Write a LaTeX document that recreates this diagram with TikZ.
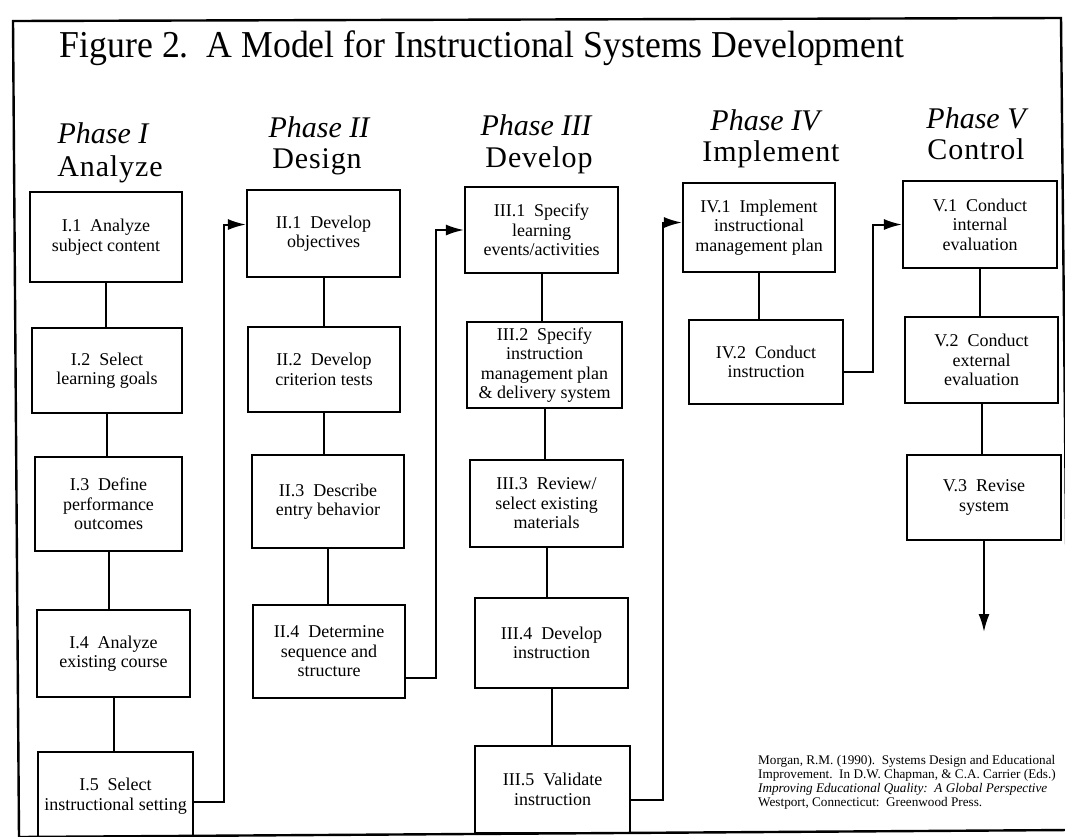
\documentclass[tikz,border=0pt]{standalone}
\usepackage{graphicx}
\usepackage{fontspec}
\setmainfont{Liberation Serif}
\newfontfamily\spacedfont[LetterSpace=3]{Liberation Serif}
\usetikzlibrary{arrows.meta,calc}
\begin{document}
\begin{tikzpicture}[x=1pt,y=-1pt,
  box/.style={draw, line width=2.2pt, inner sep=0pt, align=center,
    font=\fontsize{18}{19.5}\selectfont},
  link/.style={line width=2pt},
  arr/.style={line width=2pt, -{Latex[length=18pt,width=11pt]}},
  phase/.style={font=\fontsize{30}{32}\selectfont\itshape, anchor=base, inner sep=0pt},
  stage/.style={font=\fontsize{30}{32}\spacedfont, anchor=base, inner sep=0pt},
  frame/.style={line width=2.4pt},
]
\useasboundingbox (0,0) rectangle (1065,836);
\clip (0,0) rectangle (1065,836);

% outer frame
\draw[frame] (13,21) -- (1061,18) -- (1069,830) -- (19,837) -- cycle;

% title
\node[anchor=base, inner sep=0pt, font=\fontsize{38}{40}\selectfont] (title) at (482,57)
  {\scalebox{0.94}[1]{Figure 2.\ \ A Model for Instructional Systems Development}};

% phase headings
\node[phase] (p1) at (103,143) {Phase I};
\node[stage] (s1) at (110,176) {Analyze};
\node[phase] (p2) at (319,137) {Phase II};
\node[stage] (s2) at (317,168) {Design};
\node[phase] (p3) at (536,135) {Phase III};
\node[stage] (s3) at (539,167) {Develop};
\node[phase] (p4) at (765,130) {Phase IV};
\node[stage] (s4) at (771,161) {Implement};
\node[phase] (p5) at (976,128) {Phase V};
\node[stage] (s5) at (976,159) {Control};

% Phase I boxes
\node[box, minimum width=152pt, minimum height=90pt] (i1) at (106,237) {I.1\ \ Analyze\\subject content};
\node[box, minimum width=150pt, minimum height=85pt] (i2) at (107,370.5) {I.2\ \ Select\\learning goals};
\node[box, minimum width=147pt, minimum height=94pt] (i3) at (108.5,504) {I.3\ \ Define\\performance\\outcomes};
\node[box, minimum width=153pt, minimum height=87pt] (i4) at (113.5,653.5) {I.4\ \ Analyze\\existing course};
\node[box, minimum width=155pt, minimum height=88pt] (i5) at (115.5,796) {I.5\ \ Select\\instructional setting};

% Phase II boxes
\node[box, minimum width=153pt, minimum height=87pt] (ii1) at (323.5,233.5) {II.1\ \ Develop\\objectives};
\node[box, minimum width=152pt, minimum height=85pt] (ii2) at (324,369.5) {II.2\ \ Develop\\criterion tests};
\node[box, minimum width=152pt, minimum height=93pt] (ii3) at (328,501.5) {II.3\ \ Describe\\entry behavior};
\node[box, minimum width=152pt, minimum height=93pt] (ii4) at (329,651.5) {II.4\ \ Determine\\sequence and\\structure};

% Phase III boxes
\node[box, minimum width=153pt, minimum height=86pt] (iii1) at (541.5,230) {III.1\ \ Specify\\learning\\events/activities};
\node[box, minimum width=155pt, minimum height=86pt] (iii2) at (544.5,365) {III.2\ \ Specify\\instruction\\management plan\\\& delivery system};
\node[box, minimum width=153pt, minimum height=87pt] (iii3) at (546.5,503.5) {III.3\ \ Review/\\select existing\\materials};
\node[box, minimum width=153pt, minimum height=90pt] (iii4) at (551.5,643) {III.4\ \ Develop\\instruction};
\node[box, minimum width=155pt, minimum height=87pt] (iii5) at (552.5,789.5) {III.5\ \ Validate\\instruction};

% Phase IV boxes
\node[box, minimum width=152pt, minimum height=89pt] (iv1) at (759,227.5) {IV.1\ \ Implement\\instructional\\management plan};
\node[box, minimum width=154pt, minimum height=84pt] (iv2) at (766,362) {IV.2\ \ Conduct\\instruction};

% Phase V boxes
\node[box, minimum width=154pt, minimum height=87pt] (v1) at (980,224.5) {V.1\ \ Conduct\\internal\\evaluation};
\node[box, minimum width=153pt, minimum height=86pt] (v2) at (981.5,360) {V.2\ \ Conduct\\external\\evaluation};
\node[box, minimum width=154pt, minimum height=85pt] (v3) at (984,497.5) {V.3\ \ Revise\\system};

% vertical links
\draw[link] (i1.south) -- (i1.south |- i2.north);
\draw[link] (i2.south) -- (i2.south |- i3.north);
\draw[link] (i3.south) -- (i3.south |- i4.north);
\draw[link] (i4.south) -- (i4.south |- i5.north);
\draw[link] (ii1.south) -- (ii1.south |- ii2.north);
\draw[link] (ii2.south) -- (ii2.south |- ii3.north);
\draw[link] (ii3.south) -- (ii3.south |- ii4.north);
\draw[link] (iii1.south) -- (iii1.south |- iii2.north);
\draw[link] (iii2.south) -- (iii2.south |- iii3.north);
\draw[link] (iii3.south) -- (iii3.south |- iii4.north);
\draw[link] (iii4.south) -- (iii4.south |- iii5.north);
\draw[link] (iv1.south) -- (iv1.south |- iv2.north);
\draw[link] (v1.south) -- (v1.south |- v2.north);
\draw[link] (v2.south) -- (v2.south |- v3.north);

% phase-to-phase arrows
\coordinate (j1) at (224,0);
\coordinate (j2) at (436,0);
\coordinate (j3) at (663,0);
\coordinate (j4) at (873,0);
\coordinate (s1o) at ([yshift=-6pt]i5.east);
\coordinate (t1) at ([yshift=9pt]ii1.west);
\coordinate (s2o) at ([yshift=-26pt]ii4.east);
\coordinate (s3o) at ([yshift=-10pt]iii5.east);
\coordinate (t3) at ([yshift=5pt]iv1.west);
\coordinate (s4o) at ([yshift=-10pt]iv2.east);
\draw[arr] (s1o) -| (j1 |- t1) -- (t1);
\draw[arr] (s2o) -| (j2 |- iii1.west) -- (iii1.west);
\draw[arr] (s3o) -| (j3 |- t3) -- (t3);
\draw[arr] (s4o) -| (j4 |- v1.west) -- (v1.west);

% final arrow
\coordinate (vend) at (984,632);
\draw[arr] (v3.south) -- (v3.south |- vend);

% citation
\node[anchor=north west, inner sep=0pt, align=left, font=\fontsize{13.2}{14}\selectfont] (cite) at (758,755)
  {Morgan, R.M. (1990).\ \ Systems Design and Educational\\
   Improvement.\ \ In D.W. Chapman, \& C.A. Carrier (Eds.)\\
   \textit{Improving Educational Quality:\ \ A Global Perspective}\\
   Westport, Connecticut:\ \ Greenwood Press.};
\end{tikzpicture}
\end{document}
